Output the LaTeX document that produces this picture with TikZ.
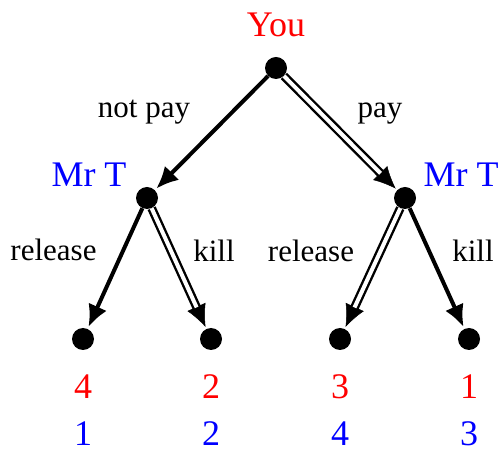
\documentclass[tikz,border=0pt]{standalone}
\usepackage{fontspec}
\setmainfont{Liberation Serif}
\usetikzlibrary{arrows.meta}
\begin{document}
\begin{tikzpicture}[
        x=1pt, y=1pt,
        dot/.style={circle, fill, inner sep=0pt, minimum size=22pt},
        player/.style={anchor=base, inner sep=0pt, font=\fontsize{36}{40}\selectfont},
        payoff/.style={anchor=base, inner sep=0pt, font=\fontsize{36}{40}\selectfont},
        move/.style={anchor=base, font=\fontsize{31}{36}\selectfont},
        arrow/.style={-{Latex[length=22pt, width=20pt]}, line width=4pt, shorten >=2pt},
        tip/.style={-{Latex[length=22pt, width=20pt]}, line width=0.5pt, shorten >=2pt},
        dbl/.style={line width=2.4pt, double, double distance=4pt, shorten >=23.5pt}
    ]
        \useasboundingbox (0,0) rectangle (500,452);

        % Decision nodes
        \node[dot] (root) at (276,384) {};
        \node[dot] (tleft) at (147,254) {};
        \node[dot] (tright) at (405,254) {};

        % Outcomes
        \node[dot] (o1) at (83,113) {};
        \node[dot] (o2) at (211,113) {};
        \node[dot] (o3) at (340,113) {};
        \node[dot] (o4) at (469,113) {};

        % Players
        \node[player, red] (you) at (276,415) {You};
        \node[player, blue] (mrtleft) at (89,265) {Mr T};
        \node[player, blue] (mrtright) at (461,265) {Mr T};

        % Payoffs
        \node[payoff, red] (p1you) at (83,53) {4};
        \node[payoff, red] (p2you) at (211,53) {2};
        \node[payoff, red] (p3you) at (340,53) {3};
        \node[payoff, red] (p4you) at (469,53) {1};
        \node[payoff, blue] (p1t) at (83,7) {1};
        \node[payoff, blue] (p2t) at (211,7) {2};
        \node[payoff, blue] (p3t) at (340,7) {4};
        \node[payoff, blue] (p4t) at (469,7) {3};

        % Moves (double lines: tip first, then shaft)
        \draw[arrow] (root) -- (tleft) node[midway, move, xshift=-67.5pt, yshift=15pt] {not pay};
        \draw[tip] (root) -- (tright);
        \draw[dbl] (root) -- (tright) node[midway, move, xshift=39.5pt, yshift=15pt] {pay};
        \draw[arrow] (tleft) -- (o1) node[midway, move, xshift=-61.5pt, yshift=8pt] {release};
        \draw[tip] (tleft) -- (o2);
        \draw[dbl] (tleft) -- (o2) node[midway, move, xshift=35pt, yshift=6.5pt] {kill};
        \draw[tip] (tright) -- (o3);
        \draw[dbl] (tright) -- (o3) node[midway, move, xshift=-61.5pt, yshift=6.5pt] {release};
        \draw[arrow] (tright) -- (o4) node[midway, move, xshift=36pt, yshift=6.5pt] {kill};

    \end{tikzpicture}
\end{document}
